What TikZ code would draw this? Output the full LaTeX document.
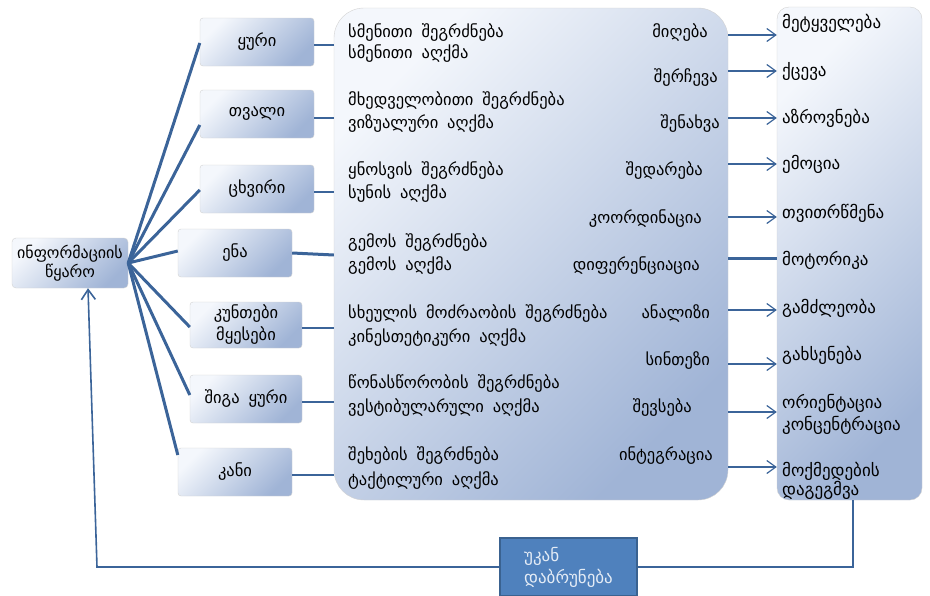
\documentclass[tikz,border=0pt]{standalone}
\usepackage{fontspec}
\setmainfont{DejaVu Sans}[WordSpace=1.7]
\usetikzlibrary{arrows.meta}
\definecolor{lineblue}{HTML}{3B6499}
\definecolor{gradlight}{HTML}{F4F7FC}
\definecolor{graddark}{HTML}{A0B4D6}
\definecolor{backfill}{HTML}{4F81BD}
\definecolor{backborder}{HTML}{3A6290}
\definecolor{backtext}{HTML}{E4ECF6}
\newcommand\geotext{\fontsize{16.5}{22}\selectfont}
\newcommand\geoout{\fontsize{17}{22}\selectfont}
\newcommand\geoinfo{\fontsize{16}{19}\selectfont}
\tikzset{
  gradbox/.style={top color=gradlight, bottom color=graddark, shading angle=45, draw=gray!35, line width=0.4pt},
  sensebox/.style={gradbox, rounded corners=3pt, minimum width=114pt, minimum height=48pt, inner sep=0pt, align=center, font=\geotext},
  lefttext/.style={anchor=mid west, inner sep=0pt, font=\geotext, yshift=-3pt},
  righttext/.style={anchor=mid east, inner sep=0pt, font=\geotext, yshift=-3pt},
  outtext/.style={anchor=mid west, inner sep=0pt, font=\geoout, yshift=-3pt},
  fan/.style={draw=lineblue, line width=3pt},
  feed/.style={draw=lineblue, line width=1.6pt},
  outarrow/.style={draw=lineblue, line width=1.2pt, -{Straight Barb[length=9pt,width=13pt,line width=1.2pt]}},
}
\begin{document}
\begin{tikzpicture}[x=1pt,y=-1pt]
\useasboundingbox (0,0) rectangle (930,595);
% main boxes
\node[gradbox, rounded corners=30pt, minimum width=394pt, minimum height=492pt] (big) at (531,254) {};
\node[gradbox, rounded corners=12pt, minimum width=145pt, minimum height=493pt] (outbox) at (849.5,253.5) {};
\node[gradbox, rounded corners=4pt, minimum width=116pt, minimum height=50pt, inner sep=0pt, align=center, font=\geoinfo] (info) at (70,263) {ინფორმაციის\\წყარო};
% sense boxes
\node[sensebox] (s1) at (257,42) {ყური};
\node[sensebox] (s2) at (257,114) {თვალი};
\node[sensebox] (s3) at (257,189) {ცხვირი};
\node[sensebox] (s4) at (235,253) {ენა};
\node[sensebox, minimum width=112pt, minimum height=46pt] (s5) at (246,325) {კუნთები\\მყესები};
\node[sensebox, minimum width=112pt] (s6) at (246,399) {შიგა ყური};
\node[sensebox] (s7) at (235,472) {კანი};
% feedback box
\node[fill=backfill, draw=backborder, line width=2pt, minimum width=137pt, minimum height=58pt, align=left, text=backtext, font=\geoout] (back) at (568.5,567) {უკან\\დაბრუნება};
% fan lines
\draw[fan] (info.east) -- (s1.west |- 0,43);
\draw[fan] (info.east) -- (s2.west |- 0,125);
\draw[fan] (info.east) -- (s3.west |- 0,190);
\draw[fan] (info.east) -- (s4.west |- 0,251);
\draw[fan] (info.east) -- (s5.west |- 0,327);
\draw[fan] (info.east) -- (s6.west |- 0,395);
\draw[fan] (info.east) -- (s7.west |- 0,455);
% sense to big
\draw[feed] (s1.east |- 0,45) -- (big.west |- 0,45);
\draw[feed] (s2.east |- 0,118) -- (big.west |- 0,118);
\draw[feed] (s3.east |- 0,192) -- (big.west |- 0,192);
\draw[fan] (s4.east) -- (big.west |- 0,255);
\draw[feed] (s5.east |- 0,328) -- (big.west |- 0,328);
\draw[feed] (s6.east |- 0,402) -- (big.west |- 0,402);
\draw[feed] (s7.east |- 0,475) -- (big.west |- 0,475);
% big box text
\node[lefttext] (l1) at (348,32) {სმენითი შეგრძნება};
\node[righttext] (r1) at (708,32) {მიღება};
\node[lefttext] (l2) at (348,53) {სმენითი აღქმა};
\node[righttext] (r3) at (718,77) {შერჩევა};
\node[lefttext] (l4) at (348,100) {მხედველობითი შეგრძნება};
\node[lefttext] (l5) at (348,123) {ვიზუალური აღქმა};
\node[righttext] (r5) at (720,123) {შენახვა};
\node[lefttext] (l7) at (348,170) {ყნოსვის შეგრძნება};
\node[righttext] (r7) at (703,170) {შედარება};
\node[lefttext] (l8) at (348,193) {სუნის აღქმა};
\node[righttext] (r9) at (702,218) {კოორდინაცია};
\node[lefttext] (l10) at (348,242) {გემოს შეგრძნება};
\node[lefttext] (l11) at (348,265) {გემოს აღქმა};
\node[righttext] (r11) at (700,265) {დიფერენციაცია};
\node[lefttext] (l13) at (348,313) {სხეულის მოძრაობის შეგრძნება};
\node[righttext] (r13) at (710,313) {ანალიზი};
\node[lefttext] (l14) at (348,337) {კინესთეტიკური აღქმა};
\node[righttext] (r15) at (710,360) {სინთეზი};
\node[lefttext] (l16) at (348,383) {წონასწორობის შეგრძნება};
\node[lefttext] (l17) at (348,407) {ვესტიბულარული აღქმა};
\node[righttext] (r17) at (692,407) {შევსება};
\node[lefttext] (l19) at (348,455) {შეხების შეგრძნება};
\node[righttext] (r19) at (713,455) {ინტეგრაცია};
\node[lefttext] (l20) at (348,480) {ტაქტილური აღქმა};
% output labels
\node[outtext] (o1) at (782,23) {მეტყველება};
\node[outtext] (o2) at (782,71) {ქცევა};
\node[outtext] (o3) at (782,118) {აზროვნება};
\node[outtext] (o4) at (782,164) {ემოცია};
\node[outtext] (o5) at (782,213) {თვითრწმენა};
\node[outtext] (o6) at (782,260) {მოტორიკა};
\node[outtext] (o7) at (782,308) {გამძლეობა};
\node[outtext] (o8) at (782,355) {გახსენება};
\node[outtext] (o9a) at (782,403) {ორიენტაცია};
\node[outtext] (o9b) at (782,425) {კონცენტრაცია};
\node[outtext] (o10a) at (782,471) {მოქმედების};
\node[outtext] (o10b) at (782,490) {დაგეგმვა};
% arrows to outputs
\draw[outarrow] (big.east |- 0,35) -- (outbox.west |- 0,35);
\draw[outarrow] (big.east |- 0,71) -- (outbox.west |- 0,71);
\draw[outarrow] (big.east |- 0,118) -- (outbox.west |- 0,118);
\draw[outarrow] (big.east |- 0,164) -- (outbox.west |- 0,164);
\draw[outarrow] (big.east |- 0,217) -- (outbox.west |- 0,217);
\draw[fan] (big.east |- 0,258) -- (outbox.west |- 0,258);
\draw[outarrow] (big.east |- 0,310) -- (outbox.west |- 0,310);
\draw[outarrow] (big.east |- 0,364) -- (outbox.west |- 0,364);
\draw[outarrow] (big.east |- 0,412) -- (outbox.west |- 0,412);
\draw[outarrow] (big.east |- 0,467) -- (outbox.west |- 0,467);
% feedback loop
\coordinate (fbc) at (97,567);
\draw[feed] (outbox.south -| 853,0) -- (853,567) -- (back.east);
\draw[feed, -{Straight Barb[length=10pt,width=14pt,line width=1.6pt]}] (back.west) -- (fbc) -- (info.south -| 88,0);
\end{tikzpicture}
\end{document}
